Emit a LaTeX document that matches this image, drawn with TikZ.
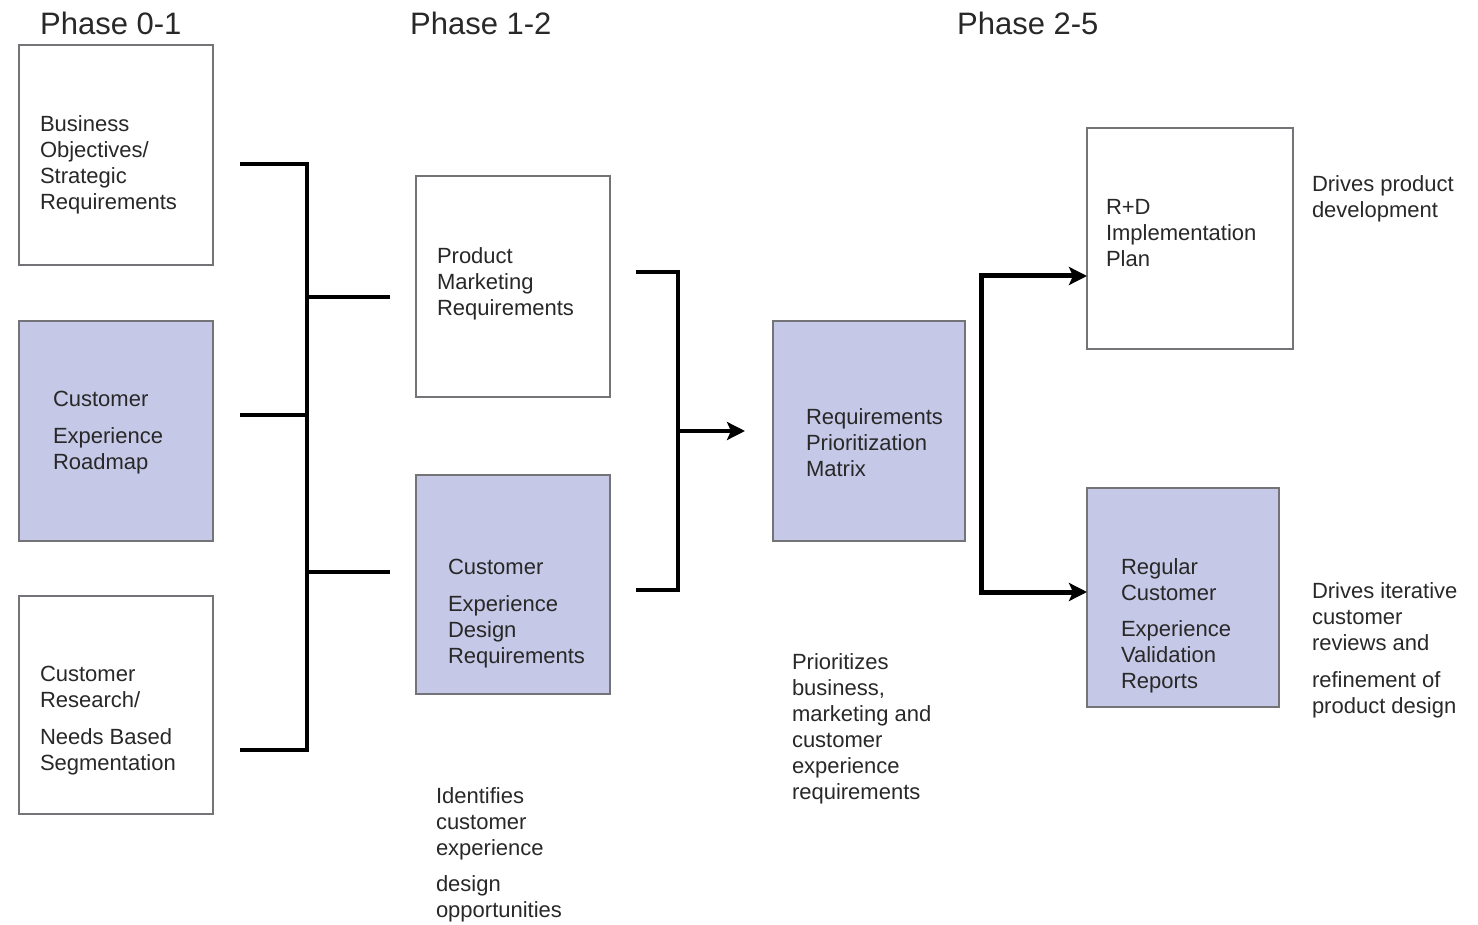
\documentclass[tikz,border=0pt]{standalone}
\usepackage{fontspec}
\setmainfont{Liberation Sans}
\usetikzlibrary{arrows.meta}
\definecolor{boxblue}{RGB}{197,200,230}
\definecolor{boxline}{RGB}{115,115,120}
\definecolor{txtcol}{RGB}{40,40,40}
\begin{document}
\begin{tikzpicture}[x=1pt,y=-1pt,
  wbox/.style={draw=boxline,line width=2pt,fill=white,anchor=north west,inner sep=0pt,outer sep=0pt},
  bbox/.style={wbox,fill=boxblue},
  txt/.style={anchor=north west,inner sep=0pt,outer sep=0pt,align=left,font=\fontsize{22}{26}\selectfont,text=txtcol},
  head/.style={anchor=base west,inner sep=0pt,font=\fontsize{31}{36}\selectfont,text=txtcol},
  conn/.style={line width=4pt,line join=miter,draw=black},
  conn3/.style={line width=5pt,line join=miter,draw=black},
  tip/.style={-{Stealth[length=18pt,width=18pt,inset=4pt]}}
]
\useasboundingbox (0,0) rectangle (1478,925);

% headers
\node[head] (h1) at (40,35) {Phase 0-1};
\node[head] (h2) at (410,35) {Phase 1-2};
\node[head] (h3) at (957,35) {Phase 2-5};

% boxes
\node[wbox,minimum width=194pt,minimum height=220pt] (b1) at (19,45) {};
\node[bbox,minimum width=194pt,minimum height=220pt] (b2) at (19,321) {};
\node[wbox,minimum width=194pt,minimum height=218pt] (b3) at (19,596) {};
\node[wbox,minimum width=194pt,minimum height=221pt] (b4) at (416,176) {};
\node[bbox,minimum width=194pt,minimum height=219pt] (b5) at (416,475) {};
\node[bbox,minimum width=192pt,minimum height=220pt] (b6) at (773,321) {};
\node[wbox,minimum width=206pt,minimum height=221pt] (b7) at (1087,128) {};
\node[bbox,minimum width=192pt,minimum height=219pt] (b8) at (1087,488) {};

% box texts
\node[txt] (t1) at (40,113) {\strut Business\\Objectives/\\Strategic\\Requirements};
\node[txt] (t2) at (53,388) {\strut Customer\\[11pt]Experience\\Roadmap};
\node[txt] (t3) at (40,663) {\strut Customer\\Research/\\[11pt]Needs Based\\Segmentation};
\node[txt] (t4) at (437,245) {\strut Product\\Marketing\\Requirements};
\node[txt] (t5) at (448,556) {\strut Customer\\[11pt]Experience\\Design\\Requirements};
\node[txt] (t6) at (806,406) {\strut Requirements\\Prioritization\\Matrix};
\node[txt] (t7) at (1106,196) {\strut R+D\\Implementation\\Plan};
\node[txt] (t8) at (1121,556) {\strut Regular\\Customer\\[10pt]Experience\\Validation\\Reports};

% annotations
\node[txt] (a1) at (1312,173) {\strut Drives product\\development};
\node[txt] (a2) at (1312,580) {\strut Drives iterative\\customer\\reviews and\\[11pt]refinement of\\product design};
\node[txt] (a3) at (792,651) {\strut Prioritizes\\business,\\marketing and\\customer\\experience\\requirements};
\node[txt] (a4) at (436,785) {\strut Identifies\\customer\\experience\\[10pt]design\\opportunities};

% bracket 1
\coordinate (l1) at (240,164);
\coordinate (l2) at (240,415);
\coordinate (l3) at (240,750);
\coordinate (v1) at (307,750);
\coordinate (o1) at (390,297);
\coordinate (o2) at (390,572);
\draw[conn] (l1) -| (v1) -- (l3);
\draw[conn] (l2) -- (l2 -| v1);
\draw[conn] (o1 -| v1) -- (o1);
\draw[conn] (o2 -| v1) -- (o2);

% bracket 2
\coordinate (m1) at (636,272);
\coordinate (m2) at (636,590);
\coordinate (mv) at (678,590);
\coordinate (ar) at (745,431);
\draw[conn] (m1) -| (mv) -- (m2);
\draw[conn,tip] (ar -| mv) -- (ar);

% bracket 3
\coordinate (r1) at (b7.west |- 0,276);
\coordinate (r2) at (b8.west |- 0,592);
\coordinate (rv1) at (981,276);
\coordinate (rv2) at (981,592);
\draw[conn3,{Stealth[length=18pt,width=18pt,inset=4pt]}-{Stealth[length=18pt,width=18pt,inset=4pt]}] (r1) -- (rv1) -- (rv2) -- (r2);
\end{tikzpicture}
\end{document}
